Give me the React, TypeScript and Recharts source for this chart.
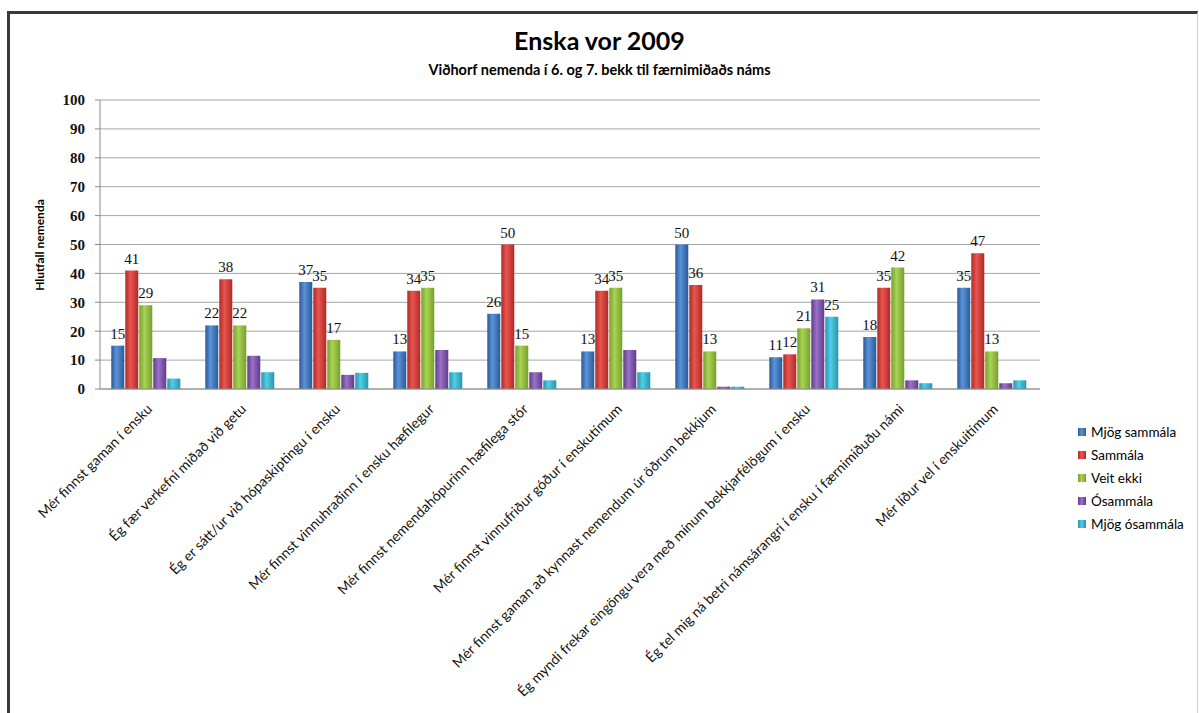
import React from 'react';
import { BarChart, Bar, XAxis, YAxis, CartesianGrid, LabelList } from 'recharts';

const categories = [
  'Mér finnst gaman í ensku',
  'Ég fær verkefni miðað við getu',
  'Ég  er sátt/ur við hópaskiptingu í ensku',
  'Mér finnst vinnuhraðinn í ensku hæfilegur',
  'Mér finnst nemendahópurinn hæfilega stór',
  'Mér finnst vinnufriður góður í enskutímum',
  'Mér finnst gaman að kynnast nemendum úr öðrum bekkjum',
  'Ég myndi frekar  eingöngu vera með mínum bekkjarfélögum í ensku',
  'Ég tel mig ná betri námsárangri í ensku í færnimiðuðu námi',
  'Mér líður vel í enskuitímum',
];

const mjogSammala = [15, 22, 37, 13, 26, 13, 50, 11, 18, 35];
const sammala = [41, 38, 35, 34, 50, 34, 36, 12, 35, 47];
const veitEkki = [29, 22, 17, 35, 15, 35, 13, 21, 42, 13];
const osammala = [10.7, 11.5, 4.9, 13.5, 5.8, 13.5, 0.8, 31, 3, 2];
const mjogOsammala = [3.6, 5.8, 5.6, 5.8, 3, 5.8, 0.8, 25, 2, 3];

const yTicks = [0, 10, 20, 30, 40, 50, 60, 70, 80, 90, 100];

const series = [
  { key: 'mjogSammala', name: 'Mjög sammála', dark: '#2b5a98', light: '#5a93d8', alwaysLabel: true },
  { key: 'sammala', name: 'Sammála', dark: '#b02a26', light: '#e8554f', alwaysLabel: true },
  { key: 'veitEkki', name: 'Veit ekki', dark: '#76a02c', light: '#a8d355', alwaysLabel: true },
  { key: 'osammala', name: 'Ósammála', dark: '#5f3d88', light: '#9a70c8', alwaysLabel: false },
  { key: 'mjogOsammala', name: 'Mjög ósammála', dark: '#2596ae', light: '#52cde6', alwaysLabel: false },
];

const data = categories.map((c, i) => ({
  name: c,
  mjogSammala: mjogSammala[i],
  sammala: sammala[i],
  veitEkki: veitEkki[i],
  osammala: osammala[i],
  mjogOsammala: mjogOsammala[i],
}));

const calibri = 'Lato, "Open Sans", sans-serif';
const cambria = '"Liberation Serif", serif';

const CategoryTick = (props: any) => {
  const { x, y, payload } = props;
  const ax = x + 6;
  const ay = y + 13;
  return (
    <text
      x={ax}
      y={ay}
      transform={`rotate(-45 ${ax} ${ay})`}
      textAnchor="end"
      fontSize={14}
      fontFamily={calibri}
      fill="#111"
    >
      {payload.value}
    </text>
  );
};

const makeLabel = (always: boolean) => (props: any) => {
  const { x, y, width, value } = props;
  if (!always && value < 20) return null;
  return (
    <text
      x={x + width / 2}
      y={y - 7}
      textAnchor="middle"
      fontSize={15}
      fontFamily={cambria}
      fill="#111"
    >
      {Math.round(value)}
    </text>
  );
};

export default function App() {
  return (
    <div style={{ position: 'absolute', left: 0, top: 0, width: 1199, height: 713, background: '#fff', overflow: 'hidden' }}>
      <div
        style={{
          position: 'absolute', left: 7, top: 11, width: 1187, height: 720,
          borderTop: '3px solid #3a3a3a', borderLeft: '3px solid #3a3a3a', borderRight: '1px solid #d0d0d0',
        }}
      />
      <div style={{ position: 'absolute', left: 0, width: 1199, top: 25, textAlign: 'center', fontFamily: calibri, fontWeight: 700, fontSize: 25, color: '#000' }}>
        Enska vor 2009
      </div>
      <div style={{ position: 'absolute', left: 0, width: 1199, top: 61, textAlign: 'center', fontFamily: calibri, fontWeight: 700, fontSize: 14.5, color: '#000' }}>
        Viðhorf nemenda í 6. og 7. bekk til færnimiðaðs náms
      </div>
      <div
        style={{
          position: 'absolute', left: 39, top: 245, transform: 'translate(-50%, -50%) rotate(-90deg)',
          whiteSpace: 'nowrap', fontFamily: calibri, fontWeight: 700, fontSize: 12, color: '#000',
        }}
      >
        Hlutfall nemenda
      </div>

      <div style={{ position: 'absolute', left: 0, top: 0 }}>
        <BarChart
          width={1199}
          height={713}
          data={data}
          margin={{ top: 100, right: 159, bottom: 24, left: 0 }}
          barCategoryGap="12%"
          barGap={1}
        >
          <defs>
            {series.map((s) => (
              <linearGradient key={s.key} id={`grad-${s.key}`} x1="0" y1="0" x2="1" y2="0">
                <stop offset="0%" stopColor={s.dark} />
                <stop offset="40%" stopColor={s.light} />
                <stop offset="100%" stopColor={s.dark} />
              </linearGradient>
            ))}
          </defs>
          <CartesianGrid vertical={false} stroke="#a6a6a6" strokeWidth={1} />
          <XAxis
            dataKey="name"
            interval={0}
            height={300}
            tickLine={false}
            axisLine={{ stroke: '#8c8c8c' }}
            tick={<CategoryTick />}
          />
          <YAxis
            width={100}
            domain={[0, 100]}
            ticks={yTicks}
            interval={0}
            tickSize={5}
            tickMargin={10}
            tickLine={{ stroke: '#8c8c8c' }}
            axisLine={{ stroke: '#8c8c8c' }}
            tick={{ fontSize: 15, fontFamily: cambria, fontWeight: 700, fill: '#111' }}
          />
          {series.map((s) => (
            <Bar key={s.key} dataKey={s.key} name={s.name} fill={`url(#grad-${s.key})`} isAnimationActive={false}>
              <LabelList dataKey={s.key} content={makeLabel(s.alwaysLabel)} />
            </Bar>
          ))}
        </BarChart>
      </div>

      <div style={{ position: 'absolute', left: 1078, top: 420 }}>
        {series.map((s) => (
          <div key={s.key} style={{ display: 'flex', alignItems: 'center', height: 23, fontFamily: calibri, fontSize: 13.5, color: '#000' }}>
            <span
              style={{
                display: 'inline-block', width: 8, height: 8, marginRight: 5,
                background: `linear-gradient(90deg, ${s.dark}, ${s.light} 45%, ${s.dark})`,
              }}
            />
            {s.name}
          </div>
        ))}
      </div>
    </div>
  );
}
